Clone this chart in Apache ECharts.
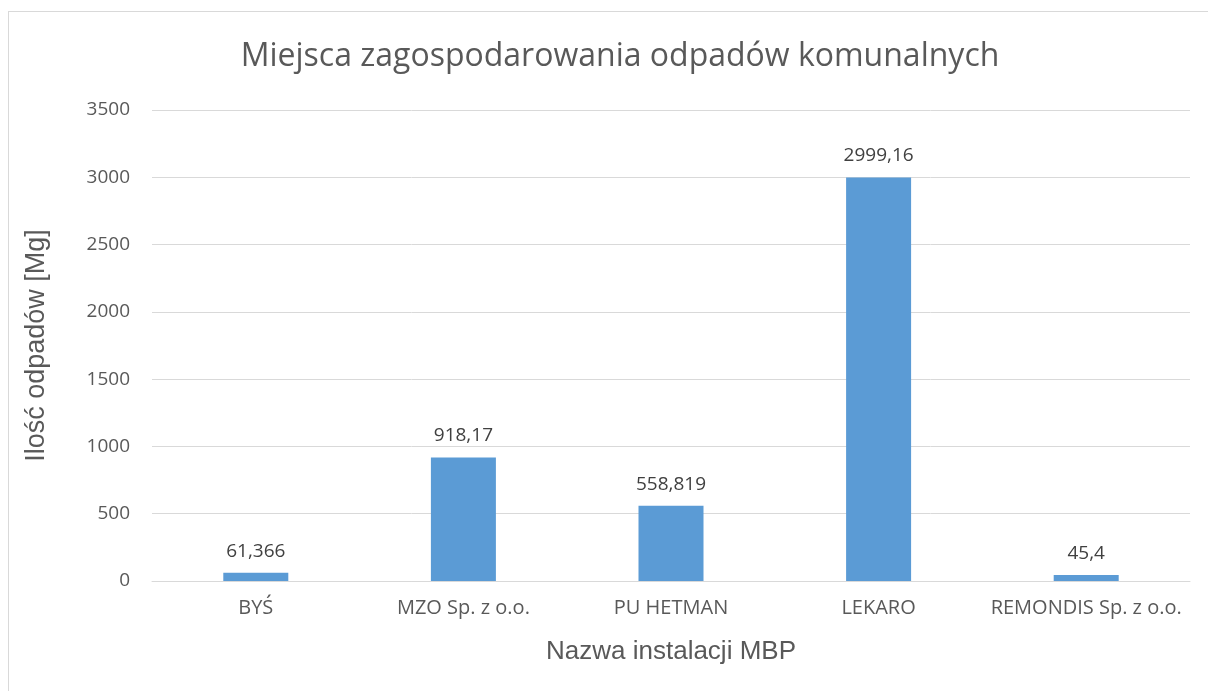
<!DOCTYPE html>
<html>
<head>
<meta charset="utf-8">
<script src="https://cdn.jsdelivr.net/npm/echarts@6/dist/echarts.min.js"></script>
<style>
  html, body { margin: 0; padding: 0; background: #fff; overflow: hidden; }
  #frame { position: absolute; left: 8px; top: 11px; width: 1220px; height: 700px; border: 1px solid #d9d9d9; }
  #chart { position: absolute; left: 0; top: 0; width: 1208px; height: 691px; }
</style>
</head>
<body>
<div id="frame"></div>
<div id="chart"></div>
<script type="text/javascript">
var categories = ['BYŚ', 'MZO Sp. z o.o.', 'PU HETMAN', 'LEKARO', 'REMONDIS Sp. z o.o.'];
var values = [61.366, 918.17, 558.819, 2999.16, 45.4];

var chart = echarts.init(document.getElementById('chart'));
chart.setOption({
  animation: false,
  title: {
    text: 'Miejsca zagospodarowania odpadów komunalnych',
    left: 615,
    textAlign: 'center',
    top: 36,
    textStyle: { fontFamily: 'Open Sans', fontWeight: 'normal', fontSize: 32, color: '#595959' }
  },
  grid: { left: 152, right: 18, top: 110, bottom: 110 },
  xAxis: {
    type: 'category',
    data: categories,
    name: 'Nazwa instalacji MBP',
    nameLocation: 'middle',
    nameGap: 58,
    nameTextStyle: { fontFamily: 'Liberation Sans', fontSize: 26, color: '#595959' },
    axisLine: { lineStyle: { color: '#d9d9d9' } },
    axisTick: { show: false },
    axisLabel: { interval: 0, fontFamily: 'Open Sans', fontSize: 20, color: '#595959', margin: 17 }
  },
  yAxis: {
    type: 'value',
    min: 0,
    max: 3500,
    interval: 500,
    name: 'Ilość odpadów [Mg]',
    nameLocation: 'middle',
    nameGap: 102,
    nameTextStyle: { fontFamily: 'Liberation Sans', fontSize: 27, color: '#595959' },
    axisLine: { show: false },
    axisTick: { show: false },
    axisLabel: {
      fontFamily: 'Open Sans', fontSize: 19, color: '#595959', margin: 22,
      formatter: function (v) { return String(v); }
    },
    splitLine: { lineStyle: { color: '#d9d9d9' } }
  },
  series: [{
    type: 'bar',
    data: values,
    barWidth: 65,
    itemStyle: { color: '#5b9bd5' },
    label: {
      show: true,
      position: 'top',
      distance: 12,
      fontFamily: 'Open Sans',
      fontSize: 19,
      color: '#404040',
      formatter: function (p) { return String(p.value).replace('.', ','); }
    }
  }]
});
</script>
</body>
</html>
